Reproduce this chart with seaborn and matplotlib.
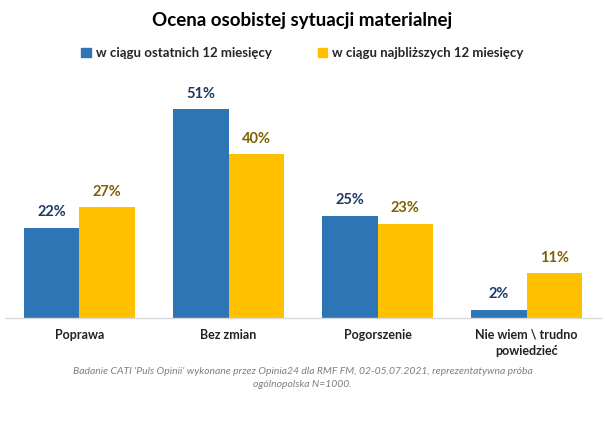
import numpy as np
import pandas as pd
import matplotlib
matplotlib.use('Agg')
import matplotlib.pyplot as plt
import seaborn as sns

# dane
kategorie = ['Poprawa', 'Bez zmian', 'Pogorszenie', 'Nie wiem \\ trudno\npowiedzieć']
serie = ['w ciągu ostatnich 12 miesięcy', 'w ciągu najbliższych 12 miesięcy']
ostatnie = [22, 51, 25, 2]
najblizsze = [27, 40, 23, 11]

KOLORY = ['#2E75B6', '#FFC000']
KOLORY_ETYKIET = ['#1F3864', '#7F6000']

df = pd.DataFrame({
    'kategoria': kategorie * 2,
    'seria': [serie[0]] * 4 + [serie[1]] * 4,
    'wartosc': ostatnie + najblizsze,
})

sns.set_theme(style='white')
plt.rcParams['font.family'] = ['Lato', 'DejaVu Sans']

fig = plt.figure(figsize=(6.05, 4.33), dpi=100)
ax = fig.add_axes([5/605, (433-318)/433, 596/605, 246/433])

sns.barplot(data=df, x='kategoria', y='wartosc', hue='seria', order=kategorie,
            hue_order=serie, palette=KOLORY, width=0.74, saturation=1,
            edgecolor='none', ax=ax, legend=False)

ax.set_xlim(-0.5, 3.5)
ax.set_ylim(0, 60)
ax.set_xlabel(''); ax.set_ylabel('')
ax.set_yticks([])
ax.set_xticks([])
for s in ['top', 'right', 'left']:
    ax.spines[s].set_visible(False)
ax.spines['bottom'].set_color('#D9D9D9')
ax.spines['bottom'].set_linewidth(1)

for cont, kol in zip(ax.containers, KOLORY_ETYKIET):
    ax.bar_label(cont, labels=[f'{int(v)}%' for v in cont.datavalues],
                 padding=6, color=kol, fontsize=10.5, fontweight='bold')

# etykiety kategorii
for i, k in enumerate(kategorie):
    ax.text(i, -2.6, k, ha='center', va='top', fontsize=9, fontweight='bold',
            color='#222222', linespacing=1.45)

fig.text(0.5, 0.952, 'Ocena osobistej sytuacji materialnej', ha='center', va='center',
         fontsize=13.5, fontweight='bold', color='black')

uchwyty = [plt.Rectangle((0, 0), 1, 1, color=c) for c in KOLORY]
fig.legend(uchwyty, serie, loc='center', bbox_to_anchor=(0.5, 0.878), ncol=2,
           frameon=False, handlelength=0.7, handleheight=0.7,
           handletextpad=0.4, columnspacing=3.5, prop={'weight': 'bold', 'size': 9.5})

fig.text(0.5, 0.127, "Badanie CATI 'Puls Opinii' wykonane przez Opinia24 dla RMF FM, 02-05.07.2021, reprezentatywna próba\nogólnopolska N=1000.",
         ha='center', va='center', fontsize=7.5, style='italic', color='#7F7F7F',
         linespacing=1.5)

fig.savefig('out.png', dpi=100)
